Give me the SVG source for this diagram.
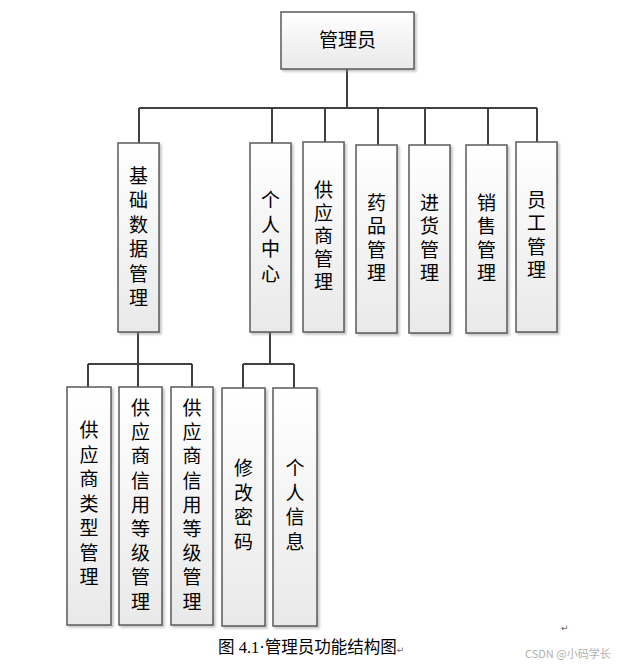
<svg xmlns="http://www.w3.org/2000/svg" width="620" height="666" viewBox="0 0 620 666">
<defs>
<linearGradient id="g" x1="0" y1="0" x2="0" y2="1">
<stop offset="0" stop-color="#ffffff"/>
<stop offset="1" stop-color="#e9e9e9"/>
</linearGradient>
<filter id="sh" x="-20%" y="-20%" width="140%" height="140%">
<feDropShadow dx="2" dy="2" stdDeviation="1" flood-color="#808080" flood-opacity="0.45"/>
</filter>
</defs>
<style>
.box{fill:url(#g);stroke:#5a5a5a;stroke-width:1.5;filter:url(#sh)}
.t{font-family:"Noto Sans CJK SC","Noto Sans",sans-serif;font-size:19px;fill:#000;text-anchor:middle}
.c{fill:none;stroke:#404040;stroke-width:2}
.cap{font-family:"Liberation Serif","Noto Sans CJK SC",serif;font-size:16.5px;fill:#000}
.mk{font-family:"DejaVu Sans",sans-serif;font-size:9px;fill:#666}
.wm{font-family:"Noto Sans CJK SC","Liberation Sans",sans-serif;font-size:11px;fill:#b0b0b0}
</style>
<rect width="620" height="666" fill="#ffffff"/>
<g id="connectors">
<path class="c" d="M347,69 V108 M139,108 H537 M139,108 V143 M272,108 V143 M325,108 V142 M378,108 V145 M425,108 V145 M488,108 V145 M537,108 V142"/>
<path class="c" d="M138,332 V387 M88,364 H192 M88,364 V387 M192,364 V387"/>
<path class="c" d="M270,332 V364 M243,364 H294 M243,364 V388 M294,364 V388"/>
</g>
<g id="admin">
<rect class="box" x="281" y="12" width="133" height="57"/>
<text class="t" x="347.5" y="47">管理员</text>
</g>
<g id="jichu">
<rect class="box" x="118" y="143" width="41" height="189"/>
<text class="t"><tspan x="138.5" y="183">基</tspan><tspan x="138.5" dy="24.4">础</tspan><tspan x="138.5" dy="24.4">数</tspan><tspan x="138.5" dy="24.4">据</tspan><tspan x="138.5" dy="24.4">管</tspan><tspan x="138.5" dy="24.4">理</tspan></text>
</g>
<g id="geren">
<rect class="box" x="250" y="143" width="41" height="189"/>
<text class="t"><tspan x="270.5" y="207">个</tspan><tspan x="270.5" dy="24.5">人</tspan><tspan x="270.5" dy="24.5">中</tspan><tspan x="270.5" dy="24.5">心</tspan></text>
</g>
<g id="gongying">
<rect class="box" x="303" y="142" width="41" height="190"/>
<text class="t"><tspan x="323.5" y="197">供</tspan><tspan x="323.5" dy="23">应</tspan><tspan x="323.5" dy="23">商</tspan><tspan x="323.5" dy="23">管</tspan><tspan x="323.5" dy="23">理</tspan></text>
</g>
<g id="yaopin">
<rect class="box" x="356" y="145" width="41" height="188"/>
<text class="t"><tspan x="376.5" y="210">药</tspan><tspan x="376.5" dy="23.3">品</tspan><tspan x="376.5" dy="23.3">管</tspan><tspan x="376.5" dy="23.3">理</tspan></text>
</g>
<g id="jinhuo">
<rect class="box" x="409" y="145" width="41" height="188"/>
<text class="t"><tspan x="429.5" y="210">进</tspan><tspan x="429.5" dy="23.3">货</tspan><tspan x="429.5" dy="23.3">管</tspan><tspan x="429.5" dy="23.3">理</tspan></text>
</g>
<g id="xiaoshou">
<rect class="box" x="466" y="145" width="41" height="188"/>
<text class="t"><tspan x="486.5" y="210">销</tspan><tspan x="486.5" dy="23.3">售</tspan><tspan x="486.5" dy="23.3">管</tspan><tspan x="486.5" dy="23.3">理</tspan></text>
</g>
<g id="yuangong">
<rect class="box" x="516" y="142" width="41" height="190"/>
<text class="t"><tspan x="536.5" y="207">员</tspan><tspan x="536.5" dy="23.3">工</tspan><tspan x="536.5" dy="23.3">管</tspan><tspan x="536.5" dy="23.3">理</tspan></text>
</g>
<g id="leixing">
<rect class="box" x="67" y="387" width="44" height="238"/>
<text class="t"><tspan x="89" y="437">供</tspan><tspan x="89" dy="24.5">应</tspan><tspan x="89" dy="24.5">商</tspan><tspan x="89" dy="24.5">类</tspan><tspan x="89" dy="24.5">型</tspan><tspan x="89" dy="24.5">管</tspan><tspan x="89" dy="24.5">理</tspan></text>
</g>
<g id="xinyong1">
<rect class="box" x="119" y="387" width="43" height="238"/>
<text class="t"><tspan x="140.5" y="415">供</tspan><tspan x="140.5" dy="24.2">应</tspan><tspan x="140.5" dy="24.2">商</tspan><tspan x="140.5" dy="24.2">信</tspan><tspan x="140.5" dy="24.2">用</tspan><tspan x="140.5" dy="24.2">等</tspan><tspan x="140.5" dy="24.2">级</tspan><tspan x="140.5" dy="24.2">管</tspan><tspan x="140.5" dy="24.2">理</tspan></text>
</g>
<g id="xinyong2">
<rect class="box" x="171" y="387" width="42" height="238"/>
<text class="t"><tspan x="192" y="415">供</tspan><tspan x="192" dy="24.2">应</tspan><tspan x="192" dy="24.2">商</tspan><tspan x="192" dy="24.2">信</tspan><tspan x="192" dy="24.2">用</tspan><tspan x="192" dy="24.2">等</tspan><tspan x="192" dy="24.2">级</tspan><tspan x="192" dy="24.2">管</tspan><tspan x="192" dy="24.2">理</tspan></text>
</g>
<g id="mima">
<rect class="box" x="222" y="388" width="43" height="238"/>
<text class="t"><tspan x="243.5" y="475">修</tspan><tspan x="243.5" dy="24.7">改</tspan><tspan x="243.5" dy="24.7">密</tspan><tspan x="243.5" dy="24.7">码</tspan></text>
</g>
<g id="xinxi">
<rect class="box" x="273" y="388" width="44" height="238"/>
<text class="t"><tspan x="295" y="475">个</tspan><tspan x="295" dy="24.7">人</tspan><tspan x="295" dy="24.7">信</tspan><tspan x="295" dy="24.7">息</tspan></text>
</g>
<text class="cap" x="218" y="653">图 4.1·管理员功能结构图<tspan class="mk">↵</tspan></text>
<text class="mk" x="561" y="631">↵</text>
<text class="wm" x="525" y="658">CSDN @小码学长</text>
</svg>
